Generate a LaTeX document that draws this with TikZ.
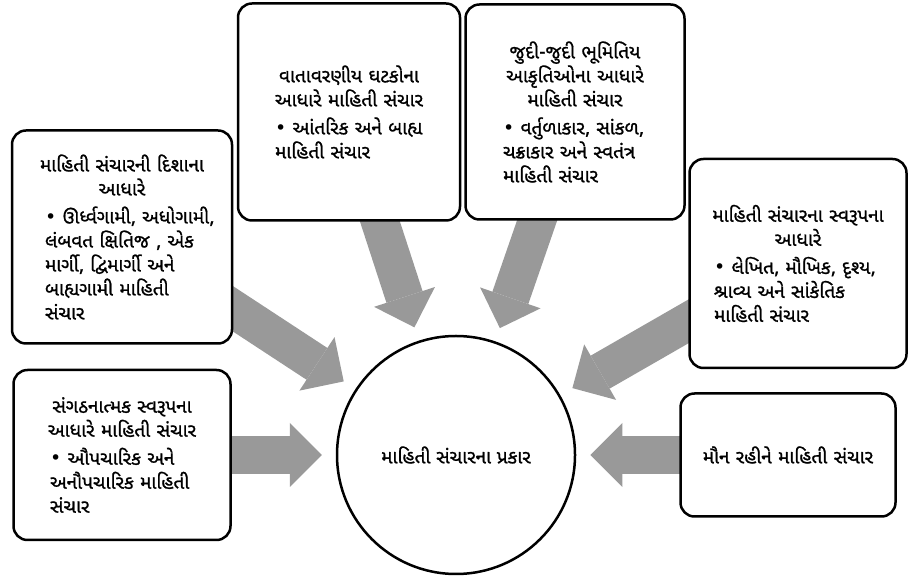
\documentclass[tikz,border=0pt]{standalone}
\usepackage{fontspec}
\usepackage{xcolor}
\usepackage{tikz}
\usetikzlibrary{arrows.meta, positioning, backgrounds}
\newfontfamily\gujfont[Script=Gujarati, FakeBold=1]{Noto Sans Gujarati UI}
\newfontfamily\symfont{DejaVu Sans}
\definecolor{arrgray}{HTML}{999999}
\newcommand{\bul}{{\symfont •}\ }
\newcommand{\ttl}[1]{{\centering #1\par}\vspace{4pt}}
\newcommand{\itm}[2]{{\raggedright\leftskip=#1\rightskip=-80pt plus 1fil \bul #2\par}}

\begin{document}
\begin{tikzpicture}[
  box/.style={rectangle, draw=black, line width=2.5pt, fill=white, rounded corners=14pt, text width=198pt, align=left, inner sep=0pt, font=\gujfont\fontsize{19}{24}\selectfont},
  hub/.style={circle, draw=black, line width=2.5pt, fill=white, minimum size=238pt, inner sep=0pt, align=center, font=\gujfont\fontsize{19}{24}\selectfont},
  arr/.style={-{Triangle[length=32pt, width=64pt, line width=0pt]}, line width=38pt, color=arrgray, shorten >=14pt, shorten <=-30pt},
]
\useasboundingbox (0,0) rectangle (909pt,580pt);

% Centre
\node[hub] (hub) at (456pt,125pt) {માહિતી સંચારના પ્રકાર};

% Left column
\node[box, left=104pt of hub, minimum width=217pt, minimum height=170pt] (org) {\ttl{સંગઠનાત્મક સ્વરૂપના\\આધારે માહિતી સંચાર}\itm{27pt}{ઔપચારિક અને\\અનૌપચારિક માહિતી\\સંચાર}};
\node[box, above=24pt of org, minimum width=220pt, minimum height=213pt] (disha) {\ttl{માહિતી સંચારની દિશાના\\આધારે}\itm{22pt}{ઊર્ધ્વગામી, અધોગામી,\\લંબવત ક્ષિતિજ , એક\\માર્ગી, દ્વિમાર્ગી અને\\બાહ્યગામી માહિતી\\સંચાર}};

% Top row
\node[box, above=113pt of hub, xshift=-107pt, minimum width=222pt, minimum height=217pt] (vata) {\ttl{વાતાવરણીય ઘટકોના\\આધારે માહિતી સંચાર}\itm{25pt}{આંતરિક અને બાહ્ય\\માહિતી સંચાર}};
\node[box, right=3pt of vata, minimum width=219pt, minimum height=215pt] (bhumi) {\ttl{જુદી-જુદી ભૂમિતિય\\આકૃતિઓના આધારે\\માહિતી સંચાર}\itm{27pt}{વર્તુળાકાર, સાંકળ,\\ચક્રાકાર અને સ્વતંત્ર\\માહિતી સંચાર}};

% Right column
\node[box, right=103pt of hub, minimum width=215pt, minimum height=123pt, align=center] (maun) {મૌન રહીને માહિતી સંચાર};
\node[box, above=23pt of maun, xshift=10pt, minimum width=217pt, minimum height=209pt] (svarup) {\ttl{માહિતી સંચારના સ્વરૂપના\\આધારે}\itm{15pt}{લેખિત, મૌખિક, દૃશ્ય,\\શ્રાવ્ય અને સાંકેતિક\\માહિતી સંચાર}};

% Arrows
\begin{scope}[on background layer]
\draw[arr] ([yshift=-72pt]disha.east) -- (hub);
\draw[arr] (org.east) -- (hub);
\draw[arr] ([xshift=31pt]vata.south) -- (hub);
\draw[arr] ([xshift=-38pt]bhumi.south) -- (hub);
\draw[arr] ([yshift=-58pt]svarup.west) -- (hub);
\draw[arr] (maun.west) -- (hub);
\end{scope}

\end{tikzpicture}
\end{document}
